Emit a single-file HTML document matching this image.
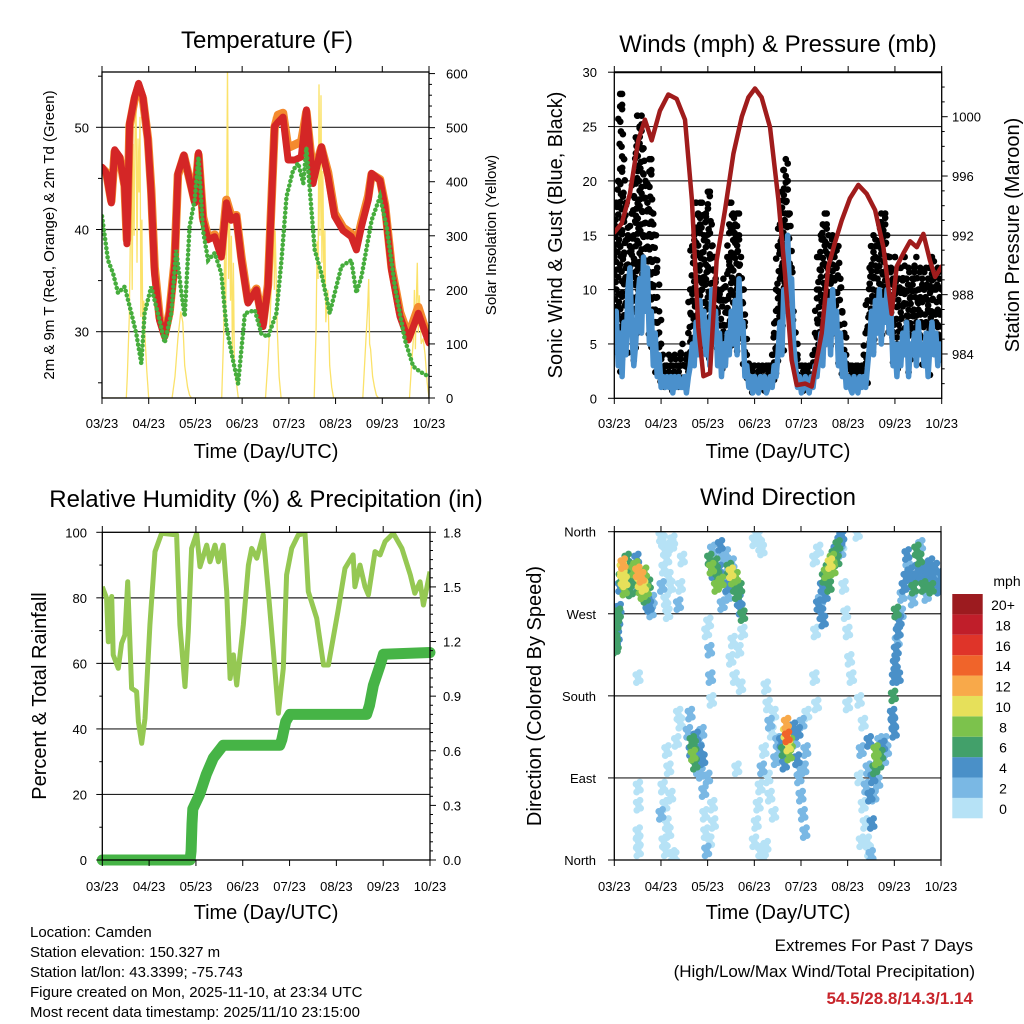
<!DOCTYPE html>
<html><head><meta charset="utf-8">
<style>
html,body{margin:0;padding:0;background:#fff;}
svg{display:block;font-family:"Liberation Sans",Arial,sans-serif;}
</style></head>
<body>
<svg id="root" width="1024" height="1024" viewBox="0 0 1024 1024" xmlns="http://www.w3.org/2000/svg">
<defs>
<clipPath id="c1"><rect x="102" y="72" width="327" height="326"/></clipPath>
<clipPath id="c2"><rect x="614.3" y="72.3" width="327.4" height="326"/></clipPath>
<clipPath id="c3"><rect x="102.3" y="532.3" width="327.7" height="327.7"/></clipPath>
<clipPath id="c4"><rect x="614.3" y="531.7" width="326.7" height="328.3"/></clipPath>
</defs>
<text x="267" y="48" font-size="24" text-anchor="middle">Temperature (F)</text>
<text x="778" y="52" font-size="24" text-anchor="middle">Winds (mph) &amp; Pressure (mb)</text>
<text x="266" y="507" font-size="24" text-anchor="middle">Relative Humidity (%) &amp; Precipitation (in)</text>
<text x="778" y="505" font-size="24" text-anchor="middle">Wind Direction</text>

<text transform="translate(54,235) rotate(-90)" font-size="15" text-anchor="middle">2m &amp; 9m T (Red, Orange) &amp; 2m Td (Green)</text>
<text transform="translate(496,235) rotate(-90)" font-size="15" text-anchor="middle">Solar Insolation (Yellow)</text>
<text transform="translate(562,235) rotate(-90)" font-size="20" text-anchor="middle">Sonic Wind &amp; Gust (Blue, Black)</text>
<text transform="translate(1019,235) rotate(-90)" font-size="20" text-anchor="middle">Station Pressure (Maroon)</text>
<text transform="translate(46,696) rotate(-90)" font-size="20" text-anchor="middle">Percent &amp; Total Rainfall</text>
<text transform="translate(541,696) rotate(-90)" font-size="20" text-anchor="middle">Direction (Colored By Speed)</text>

<text x="266" y="458" font-size="20" text-anchor="middle">Time (Day/UTC)</text>
<text x="778" y="458" font-size="20" text-anchor="middle">Time (Day/UTC)</text>
<text x="266" y="919" font-size="20" text-anchor="middle">Time (Day/UTC)</text>
<text x="778" y="919" font-size="20" text-anchor="middle">Time (Day/UTC)</text>

<g font-size="15">
<text x="30" y="937">Location: Camden</text>
<text x="30" y="957">Station elevation: 150.327 m</text>
<text x="30" y="977">Station lat/lon: 43.3399; -75.743</text>
<text x="30" y="997">Figure created on Mon, 2025-11-10, at 23:34 UTC</text>
<text x="30" y="1017">Most recent data timestamp: 2025/11/10 23:15:00</text>
</g>
<g font-size="17" text-anchor="end">
<text x="973" y="951">Extremes For Past 7 Days</text>
<text x="975" y="977">(High/Low/Max Wind/Total Precipitation)</text>
<text x="973" y="1004" fill="#c8252b" font-weight="bold">54.5/28.8/14.3/1.14</text>
</g>
<g id="plots"></g>
</svg>
<script>
// ---------- DATA ----------
const dayLabels = ["03/23","04/23","05/23","06/23","07/23","08/23","09/23","10/23"];
const tempHours = [0,2.2,4.8,6.5,9.1,11.6,12.8,14.2,16.8,18.8,21,23.6,25.3,27,29.6,32.2,34.7,37.3,39,42.1,45,47.6,49.6,51.9,54.5,57.9,61.3,63.9,66.4,69,71.6,75,79.3,82.7,85.3,88.7,90.4,93,95.6,99,102.4,105,108.4,112.7,116.1,119.5,123.8,128.1,130.7,133.3,136.8,138.5,142.8,145.4,148.8,153.1,157.4,162.5,168];
const temp2m = [46.1,45.5,42.6,47.8,47.1,44.2,38.6,50.4,53,54.3,53,48.8,43.5,35.7,31.1,29.5,31.8,36.4,45.5,47.3,44.8,42.6,47.5,40.9,39,39.3,37.3,42.6,40.9,41.3,37,32.8,34.1,30.5,34.4,50.1,50.5,51,46.8,46.8,47.1,51.7,44.5,48.1,45.2,41.3,39.9,39.3,38,40.3,42.9,45.5,44.8,42.2,36,31.5,29.2,31.8,28.9];
const temp9m = [46.0,45.6,42.8,47.6,47.0,44.3,39.0,50.2,52.8,54.0,52.8,48.9,43.9,36.3,31.4,29.7,31.9,36.8,45.3,47.2,44.9,42.8,47.3,41.2,39.2,39.5,37.6,42.9,41.3,41.4,37.3,33.0,34.2,30.8,34.6,50.0,51.2,51.4,48.0,48.3,48.6,51.5,45.3,48.0,45.6,41.6,40.2,39.6,38.5,40.7,43.3,45.4,44.9,42.4,36.3,31.9,29.6,32.4,29.1];
const dewHours = [0,3.1,5.7,8.2,11.6,15.1,17.6,20.2,21.9,25.3,29.6,32.2,35.6,38.1,40.8,42.5,45,47.6,49.6,51.9,54.5,57.9,61.3,63.9,67.3,69.9,73.4,78.5,81.9,85.3,89.6,92.2,94.8,98.2,100.8,103.4,105,109.3,112.7,117,123,128.1,130.7,133.3,138.5,142.8,146.2,150.5,155.6,159.9,163.3,168];
const dewPoint = [41.3,37,35.7,33.8,34.4,31.8,29.8,26.9,31.8,34.4,31.1,28.9,31.8,38,33.8,31.5,40.3,42.9,47.1,39.9,37,37.7,35.7,30.5,27.2,24.9,31.8,32.1,29.8,29.5,31.8,37,43.2,45.8,46.5,44.5,48,38,35.7,31.8,36.4,37,33.8,35.4,40.9,43.2,40.3,34.4,29.2,26.6,26.1,25.6];
const solarHours = [0,12.5,13,14,15,15.5,16,16.5,17,17.5,18,18.5,19,19.5,20,20.5,21,21.5,22,23,24,36,37.5,39,40.5,41.5,42.5,44,45,46,61.5,62.5,63,63.5,64,64.5,65,65.5,66,66.5,67,67.5,68,69,70,84,85.5,86.5,87.5,88,88.5,89,90,91,92,109,110,110.5,111,111.5,112,112.5,113,113.5,114,114.5,115,116,117,118,119,134,135.5,136.5,137,137.5,138,139,140,141,142,158,159,160,160.5,161,161.5,162,162.5,163,164,165,166,167,168];
const solarValues = [0,0,40,150,420,200,470,300,500,540,250,480,380,520,150,330,100,180,120,50,0,0,40,110,160,140,60,20,5,0,0,120,280,140,330,620,220,340,180,300,80,250,60,30,0,0,80,160,260,520,200,310,130,40,0,0,130,290,220,580,300,560,250,420,200,310,140,200,60,20,0,0,100,170,220,100,90,40,20,5,0,0,60,110,200,90,180,250,120,190,100,110,80,30,0];
const windSpeed = [5,8,3,6,2,7,4,10,12,6,3,5,9,11,6,13,8,12,5,8,3,6,2,4,1,
 2,1,2,1,2,0.5,2,1,2,1,1,2,0.5,2,3,5,
 3,7,4,9,5,8,4,7,3,10,6,8,3,6,2,5,3,6,4,8,5,9,4,11,6,7,2,3,
 1,2,0.5,2,1,0.5,2,1,2,0.5,1,2,1,3,2,4,
 7,4,10,8,15,9,11,5,3,
 1,2,0.5,1,2,1,0.5,2,1,3,2,4,
 6,3,8,5,9,4,10,6,8,3,6,2,4,1,2,
 1,0.5,2,1,0.5,2,1,2,1,3,5,
 8,4,9,6,10,5,9,7,10,6,8,3,5,
 2,5,3,6,4,7,2,5,4,6,3,7,4,5,3,6,2,5,7,4,6,3,5,4];
const windGust = [16,18,20,28,27,22,18,15,14,17,20,24,26,25,26,23,20,18,22,21,17,15,12,8,5,
 4,3,3,4,3,3,4,3,3,4,5,3,4,6,10,14,
 15,18,17,16,18,15,17,19,19,16,13,11,10,9,10,11,9,13,16,18,17,16,17,15,13,10,7,4,
 3,3,2.5,3,2,3,2.5,3,2,3,2.5,3,4,6,10,14,
 16,19,21,22,20,17,12,8,5,
 4,3,3,2.5,3,2.5,3,3,4,6,10,13,
 15,16,17,16,15,14,15,13,12,14,11,8,6,4,3,
 3,3,2.5,3,3,2.5,3,4,6,9,12,
 14,15,13,14,16,17,16,17,15,13,12,11,13,
 10,11,12,10,13,11,12,10,11,12,13,10,12,11,10,12,11,12,13,11,10,12,11,10];
const pressHours = [0,3.8,8,12.3,15.7,19.2,23.4,27.7,32,36.3,39.8,43.1,45.7,49.1,52.5,56.8,61.1,65.4,68.8,72.2,75.6,79.9,84.2,87.6,91,93.6,97.9,101.3,106.4,109.8,113.2,116.7,120.9,125.2,129.5,133.8,138.1,142.3,144.9,148.4,151.8,155.2,158.6,162,164.6,168];
const pressure = [992.2,992.8,994.8,998.4,999.8,998.4,1000.4,1001.5,1001.2,999.8,994.4,985.8,982.5,982.7,990.3,993.7,997.5,1000,1001.3,1001.9,1001.3,999.3,994.4,989.4,983.6,981.9,982,981.8,985.4,989.9,991.5,993,994.5,995.4,994.8,993.7,991.2,986.7,989.9,990.8,991.6,991.2,992.1,990.3,989.2,989.9];
const rhHours = [0,2.2,3.1,4.8,5.6,8.2,9.9,11.6,13,15,17.6,18.5,20.2,21.9,24.4,27,30.4,38.1,39.8,42.4,44.1,45.8,48.4,50.1,53.5,55.2,57.8,59.5,62,63.8,65.5,67.2,68.9,72.3,74.9,76.6,79.2,82.5,85.1,87.7,90.3,92.8,94.5,97.1,100.5,103.9,105.6,109.9,113.4,115.9,120.8,124.4,128.6,129.5,132.1,134.7,136.4,139.8,142.4,145,149.2,153.6,157.9,160.2,162.9,164.6,168];
const rhValues = [83.4,79.9,66.6,80.4,62.6,58.5,66.1,68.7,84.9,52.4,51.4,42.2,35.6,43.2,71.7,94.1,99.7,99.2,71.7,52.9,69.7,95.1,99.7,89.5,96.1,91,96.1,91,96.1,81.9,55.4,62.6,53.4,71.7,90,95.1,92.1,99.2,81.9,63.6,44.8,58.5,87,95.1,99.2,99.7,81.9,73.8,59.5,59.5,75.8,89,93.1,83.4,90,83.4,80.9,94.1,93.1,97.2,99.7,95.1,87,81.4,84.9,77.8,88];
const precipHours = [0,45,45.5,46,46.4,49.9,53.3,56.9,62,91,92,94,96.2,135.5,137,139,142.4,144.1,168];
const precipTotal = [0,0,0.05,0.2,0.28,0.36,0.47,0.56,0.63,0.63,0.66,0.76,0.80,0.80,0.85,0.96,1.07,1.13,1.14];
const dirHours = [0.3,0.6,0.9,1.2,1.5,1.8,2.1,0.5,1.0,2.4,3.0,3.5,4.0,4.5,5.0,5.5,6.0,6.5,7.0,7.5,8.0,8.3,4.2,5.2,9,10,11,12,13,13.5,14,14.5,15,16,16.5,17,18,19,19.5,11.5,12.5,15.5,17.5,12.2,12.3,12.4,12.2,12.3,12.4,24,25,26,27,25.5,28,29,26.5,24.5,27.5,29.5,30,33,34,32,25,26,24,27,28,25.5,26.5,29,30,31,28,27,33,34,35,38,39,39.5,40,40.5,41,41.5,42,42.5,43,43.5,44,44.5,45,45.5,46,46.5,47,47.5,49,50,51,52,53,54,55,56,57,58,59,60,61,62,63,64,65,66,50.5,52.5,54.5,57.5,60.5,62.5,64.5,58.5,55.5,49,49.5,50,48.5,50.5,51,49,48,47.5,61,60,62,64,65,63,66,72,73,74,75,76,78,79,80,81,82,77,76,75,74,73,72,75,77,79,80,82,83,84,85,78,86,87,88,88.5,89,89.5,90,90.5,91,87.5,92,93,94,95,96,97,98,96.5,98.5,99,95.5,94.5,97.5,105,106,107,108,109,110,111,112,113,114,115,116,117,110.5,108.5,112.5,114.5,106.5,107.5,116.5,103,103.5,103,104,105,117,118,119,120,121,122,120,125,126,126,127,127,128,128,129,130,131,132,129.5,130.5,131.5,133,134,135,136,137,138,139,140,135.5,133.5,132.5,134.5,136.5,138.5,131,143,143.5,144,144.5,145,145.5,146,146.5,145,146,144,143.5,148,149,150,151,152,153,154,155,156,157,158,159,160,161,162,163,164,165,166,167,168,150.5,155.5,157.5,162.5,160.5,153.5,147.5,148.5];
const dirDegrees = [250,240,258,265,245,262,270,232,236,275,300,310,320,325,315,305,318,330,322,310,300,295,308,296,312,318,322,316,305,298,310,292,300,288,295,282,278,272,285,330,300,315,302,200,80,60,30,20,10,355,350,340,330,320,310,300,285,300,270,345,350,160,150,130,80,60,50,40,30,20,10,70,5,3,100,120,280,300,330,140,160,120,130,115,125,105,135,110,100,130,120,95,140,110,75,50,30,10,330,320,315,325,310,318,305,330,312,300,320,315,308,300,292,285,275,268,340,300,345,335,325,310,298,290,280,230,200,175,260,60,40,20,90,250,240,220,200,230,190,100,250,350,358,355,345,340,190,170,150,140,160,120,100,80,60,40,20,10,0,90,70,50,110,130,120,15,130,120,140,150,135,125,115,128,140,105,145,130,110,90,70,50,30,150,120,160,100,140,100,280,285,300,310,315,320,325,330,335,340,345,350,355,300,290,318,328,270,262,338,330,250,200,170,340,345,300,270,250,220,200,170,358,175,90,120,20,150,60,40,20,10,5,80,100,70,90,100,110,105,115,125,130,120,85,70,40,120,130,110,130,160,180,200,215,230,240,250,262,272,200,140,150,290,300,310,320,315,305,298,310,320,330,315,300,310,320,305,298,310,320,305,298,312,335,340,345,325,290,285,270,250];
const dirSpeeds = [6,5,7,6,4,5,6,7,6,4,4,7,10,12,9,10,7,6,5,4,3,6,11,8,6,9,8,12,11,8,12,9,10,6,8,5,4,3,2,4,7,9,7,1,1,0,1,0,1,0,1,0,1,0,1,0,1,2,1,0,1,0,1,0,1,0,2,0,1,0,1,0,0,1,0,1,2,1,1,3,2,4,6,8,7,6,5,4,3,3,4,2,3,4,2,1,1,3,7,8,5,7,6,4,8,3,3,4,7,10,8,6,7,5,4,6,3,8,4,3,3,9,6,2,2,2,2,1,1,1,0,1,2,1,1,0,1,1,0,1,1,0,0,1,0,1,0,1,2,1,0,1,2,1,0,1,0,0,1,1,0,1,2,3,2,0,5,7,10,12,14,11,9,8,5,4,4,3,4,2,3,2,3,2,2,1,3,4,2,4,3,5,6,8,6,10,9,7,5,6,4,5,7,4,8,6,4,5,3,0,1,1,0,1,0,1,1,0,1,0,1,0,1,0,2,0,1,0,1,0,1,2,2,3,4,5,6,8,7,6,4,3,2,2,3,5,9,2,3,4,4,6,4,5,4,3,4,5,6,5,4,4,3,4,4,3,4,5,6,4,5,6,4,6,4,5,4,6,4,4,3,4,4,4,6,3,4,3,2,3];

// ---------- SCALES ----------
const x1=h=>102+h*327/168, yT=t=>331.7-(t-30)*10.22, yS=w=>398-w*0.5407;
const x2=h=>614.3+h*327.4/168, yW=s=>398.3-s*10.87, yP=p=>116.7+(1000-p)*14.83;
const x3=h=>102.3+h*327.7/168, yRH=r=>860-r*3.277, yPr=i=>860-i/1.8*327.7;
const x4=h=>614.3+h*326.7/168, yD=d=>860-d/360*328.3;

const NS="http://www.w3.org/2000/svg";
const plots=document.getElementById('plots');
function mk(tag,attrs,parent){const e=document.createElementNS(NS,tag);for(const k in attrs)e.setAttribute(k,attrs[k]);(parent||plots).appendChild(e);return e;}
function pathFrom(xs,ys,fx,fy){return xs.map((h,i)=>(i?'L':'M')+fx(h).toFixed(1)+' '+fy(ys[i]).toFixed(1)).join('');}
function txt(x,y,s,anchor,size,parent){const t=mk('text',{x:x,y:y,'font-size':size||13,'text-anchor':anchor||'middle'},parent);t.textContent=s;return t;}

// ---------- PANEL 1 ----------
const g1=mk('g',{});


[30,40,50].forEach(v=>{const l=mk('line',{x1:102,x2:429,y1:yT(v),y2:yT(v),stroke:'#222','stroke-width':1.2},g1);

});
const gc1=mk('g',{'clip-path':'url(#c1)'},g1);
const sol=mk('path',{d:pathFrom(solarHours,solarValues,x1,yS),fill:'none',stroke:'#fbe26a','stroke-width':1.3},gc1);


const t9=mk('path',{d:pathFrom(tempHours,temp9m,x1,yT),fill:'none',stroke:'#f48a2e','stroke-width':8.5,'stroke-linejoin':'round','stroke-linecap':'round'},gc1);


const t2=mk('path',{d:pathFrom(tempHours,temp2m,x1,yT),fill:'none',stroke:'#d42626','stroke-width':7,'stroke-linejoin':'round','stroke-linecap':'round'},gc1);


const td=mk('path',{d:pathFrom(dewHours,dewPoint,x1,yT),fill:'none',stroke:'#46ad3d','stroke-width':4.5,'stroke-dasharray':'0.1 4.5','stroke-linecap':'round'},gc1);


const b1=mk('rect',{x:102,y:72,width:327,height:326,fill:'none',stroke:'#000','stroke-width':1.3},g1);


dayLabels.forEach((s,i)=>{const x=x1(i*24);mk('line',{x1:x,x2:x,y1:398,y2:404,stroke:'#000'},g1);mk('line',{x1:x,x2:x,y1:72,y2:66,stroke:'#000'},g1);
const t=txt(x,428,s,'middle',13,g1);

});
[30,40,50].forEach(v=>{mk('line',{x1:96,x2:102,y1:yT(v),y2:yT(v),stroke:'#000'},g1);
const t=txt(89,yT(v)+5,String(v),'end',13,g1);

});
[25,35,45,55].forEach(v=>mk('line',{x1:98,x2:102,y1:yT(v),y2:yT(v),stroke:'#000'},g1));
for(let w=0;w<=600;w+=20){mk('line',{x1:429,x2:429+(w%100?3:6),y1:yS(w),y2:yS(w),stroke:'#000'},g1);}
[0,100,200,300,400,500,600].forEach(w=>{const t=txt(446,yS(w)+5,String(w),'start',13,g1);

});

// ---------- PANEL 2 ----------
const g2=mk('g',{});


[5,10,15,20,25].forEach(v=>{const l=mk('line',{x1:614.3,x2:941.7,y1:yW(v),y2:yW(v),stroke:'#222','stroke-width':1.2},g2);

});
const gc2=mk('g',{'clip-path':'url(#c2)'},g2);
const gustG=mk('g',{fill:'#000'},gc2);


const xoffs=[-1.4,0.6,-0.4,1.5,0];
windGust.forEach((gv,i)=>{let k=i%5;for(let s=gv-(i%3)*0.4;s>=windSpeed[i];s-=1.15){const c=mk('circle',{cx:x2(i)+xoffs[k%5]*1.3,cy:yW(s),r:3.3},gustG);

k++;}
const top=mk('circle',{cx:x2(i),cy:yW(gv),r:3.3},gustG);

});
const hrs=windSpeed.map((v,i)=>i);
const ws=mk('path',{d:pathFrom(hrs,windSpeed,x2,yW),fill:'none',stroke:'#4a90cc','stroke-width':5.5,'stroke-linejoin':'round'},gc2);


const pr=mk('path',{d:pathFrom(pressHours,pressure,x2,yP),fill:'none',stroke:'#a01c1c','stroke-width':4.5,'stroke-linejoin':'round','stroke-linecap':'round'},gc2);


const b2=mk('rect',{x:614.3,y:72.3,width:327.4,height:326,fill:'none',stroke:'#000','stroke-width':1.3},g2);


mk('line',{x1:614.3,x2:941.7,y1:72.3,y2:72.3,stroke:'#000','stroke-width':2},g2);
dayLabels.forEach((s,i)=>{const x=x2(i*24);mk('line',{x1:x,x2:x,y1:398.3,y2:404,stroke:'#000'},g2);mk('line',{x1:x,x2:x,y1:72.3,y2:66,stroke:'#000'},g2);
const t=txt(x,428,s,'middle',13,g2);

});
[0,5,10,15,20,25,30].forEach(v=>{mk('line',{x1:608,x2:614.3,y1:yW(v),y2:yW(v),stroke:'#000'},g2);
const t=txt(597,yW(v)+5,String(v),'end',13,g2);

});
for(let p=982;p<=1002;p++){mk('line',{x1:941.7,x2:941.7+(p%4?3:6),y1:yP(p),y2:yP(p),stroke:'#000'},g2);}
[984,988,992,996,1000].forEach(p=>{const t=txt(952,yP(p)+5,String(p),'start',13,g2);

});

// ---------- PANEL 3 ----------
const g3=mk('g',{});


[20,40,60,80].forEach(v=>{const l=mk('line',{x1:102.3,x2:430,y1:yRH(v),y2:yRH(v),stroke:'#222','stroke-width':1.2},g3);

});
const gc3=mk('g',{'clip-path':'url(#c3)'},g3);
const rh=mk('path',{d:pathFrom(rhHours,rhValues,x3,yRH),fill:'none',stroke:'#95c853','stroke-width':5,'stroke-linejoin':'round'},gc3);


const pp=mk('path',{d:pathFrom(precipHours,precipTotal,x3,yPr),fill:'none',stroke:'#46b446','stroke-width':11,'stroke-linejoin':'round','stroke-linecap':'round'},g3);


const b3=mk('rect',{x:102.3,y:532.3,width:327.7,height:327.7,fill:'none',stroke:'#000','stroke-width':1.3},g3);


dayLabels.forEach((s,i)=>{const x=x3(i*24);mk('line',{x1:x,x2:x,y1:860,y2:866,stroke:'#000'},g3);mk('line',{x1:x,x2:x,y1:532.3,y2:526,stroke:'#000'},g3);
const t=txt(x,891,s,'middle',13,g3);

});
for(let v=0;v<=100;v+=10){mk('line',{x1:102.3-(v%20?3:6),x2:102.3,y1:yRH(v),y2:yRH(v),stroke:'#000'},g3);}
[0,20,40,60,80,100].forEach(v=>{const t=txt(87,yRH(v)+5,String(v),'end',13,g3);

});
for(let k=0;k<=36;k++){const v=k*0.05;mk('line',{x1:430,x2:430+(k%6?3:6),y1:yPr(v),y2:yPr(v),stroke:'#000'},g3);}
["0.0","0.3","0.6","0.9","1.2","1.5","1.8"].forEach(s=>{const t=txt(443,yPr(parseFloat(s))+5,s,'start',13,g3);

});

// ---------- PANEL 4 ----------
const speedColors=['#b6e2f6','#7ab8e4','#4a90c8','#42a06a','#7cc24c','#e6e05a','#f8a94a','#f0642a','#df3429','#c01e2a','#9c1b1f'];
const speedLabels=['0','2','4','6','8','10','12','14','16','18','20+'];
const g4=mk('g',{});


[90,180,270].forEach(v=>{const l=mk('line',{x1:614.3,x2:941,y1:yD(v),y2:yD(v),stroke:'#222','stroke-width':1.2},g4);

});
const gc4=mk('g',{'clip-path':'url(#c4)'},g4);
const order=dirSpeeds.map((s,i)=>i).sort((a,b)=>dirSpeeds[a]-dirSpeeds[b]);
const spread=[[0,0],[1.6,-5],[-1.6,5],[2.2,3],[-2.2,-3]];
order.forEach(i=>{const bin=Math.min(10,Math.floor(dirSpeeds[i]/2));
const pg=mk('g',{fill:speedColors[bin]},gc4);


const cx=x4(dirHours[i]),cy=yD(dirDegrees[i]);
spread.forEach(o=>mk('circle',{cx:cx+o[0],cy:cy+o[1],r:3.4},pg));});
const b4=mk('rect',{x:614.3,y:531.7,width:326.7,height:328.3,fill:'none',stroke:'#000','stroke-width':1.3},g4);


dayLabels.forEach((s,i)=>{const x=x4(i*24);mk('line',{x1:x,x2:x,y1:860,y2:866,stroke:'#000'},g4);mk('line',{x1:x,x2:x,y1:531.7,y2:526,stroke:'#000'},g4);
const t=txt(x,891,s,'middle',13,g4);

});
['North','East','South','West','North'].forEach((s,i)=>{const y=yD(i*90);mk('line',{x1:608,x2:614.3,y1:y,y2:y,stroke:'#000'},g4);
const t=txt(596,y+5,s,'end',13,g4);

});
const cb=mk('g',{},g4);


const mph=txt(1007,586,'mph','middle',14,cb);


speedColors.forEach((c,k)=>{const y=818.3-(k+1)*20.39;
const r=mk('rect',{x:952.3,y:y,width:30.4,height:20.39,fill:c},cb);


const t=txt(1003,y+16,speedLabels[k],'middle',14,cb);

});
</script>
</body></html>
